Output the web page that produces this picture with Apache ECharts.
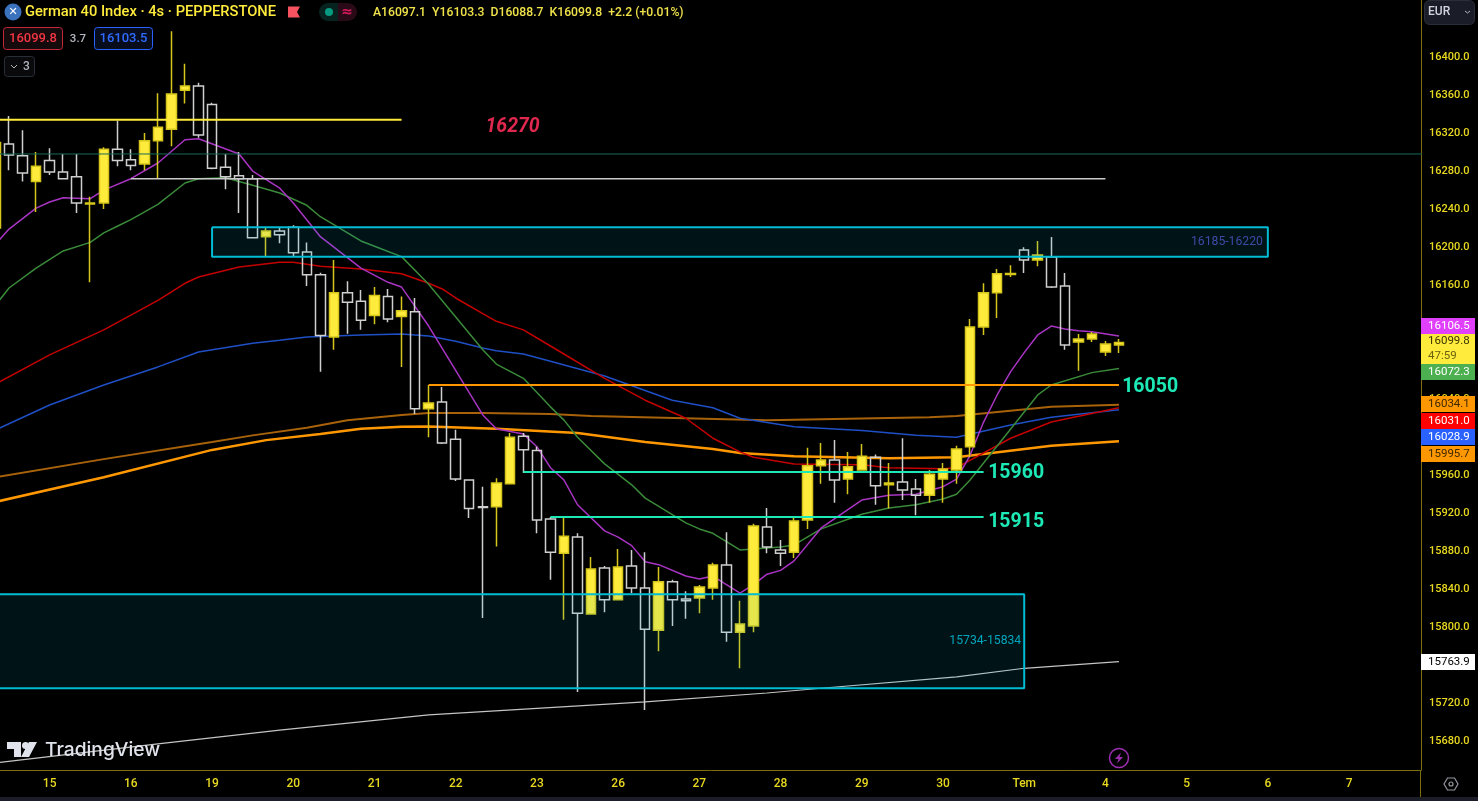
<!DOCTYPE html>
<html><head><meta charset="utf-8">
<style>html,body{margin:0;padding:0;background:#000;width:1478px;height:801px;overflow:hidden}#c{width:1478px;height:801px}</style>
<script src="https://cdn.jsdelivr.net/npm/echarts@6/dist/echarts.min.js"></script>
</head><body><div id="c"></div>
<script>
const barOpen=[16220,16308.5,16296,16269,16291,16279,16274,16245.5,16246.5,16303,16292,16287.5,16312,16324,16365,16369.5,16350,16284,16275,16272,16211,16217,16221,16195,16171,16105.5,16152,16143,16128,16148,16127,16132,16030,16037,15998,15955,15927,15927,15951,16001,15986,15914,15878,15895,15814,15862.5,15829,15864.6,15841.5,15797,15848,15830,15831,15841.5,15865.7,15795,15801.5,15905.7,15881.5,15879,15913,15970,15976,15956,15965.6,15979,15950,15953,15945.6,15939,15956,15965.6,15990,16116,16152,16171.3,16197,16186.5,16189.7,16159,16100.3,16103.4,16089.7,16097.1];
const barClose=[16310,16297,16278,16285,16279,16272,16246.5,16246.5,16303,16291,16286,16312,16326,16361,16369.5,16318,16283,16274,16272,16210,16217,16213,16194,16171,16107,16152,16142,16123,16149,16124.5,16133,16030,16036,15994,15956,15925,15926,15952,16000,15987,15913,15879,15896,15815,15861.5,15829,15863.6,15841.5,15798,15848,15829,15828,15842.6,15865.7,15795,15803.6,15906.7,15884.6,15878,15912,15970,15976,15955,15969,15980,15949,15952,15944.6,15939,15961,15966.7,15987.7,16116,16152,16172,16172.3,16186.5,16191.8,16158,16097,16103.4,16108.7,16098,16099.8];
const barLow=[16220,16281,16269,16237,16276,16272,16236,16163,16240,16285,16281,16281,16272,16306,16351,16315,16282,16261,16236,16210,16190,16204,16190,16159,16069,16092,16109,16113,16119,16121,16074,16024.5,16000,15993,15954,15915,15810,15885,15951,15962.5,15899,15850,15808,15732,15814,15816,15829,15836,15713,15775,15801.5,15809,15815,15829,15785,15757,15795,15878,15864.6,15873,15903.6,15951,15931,15940,15965.6,15929,15925,15934,15918,15931,15931,15951,15979,16107.6,16125.5,16168.6,16172.8,16180,16157,16092,16070,16100.3,16085.5,16088.7];
const barHigh=[16310,16338,16323,16300,16304,16298,16298,16253,16305,16333,16303,16320,16362,16427,16393,16373,16352,16298,16300,16276,16220,16220,16223,16205,16173,16186.5,16164,16155,16158,16156,16148,16146.5,16055,16053,16008,15955,15948,15957,16004.5,16004.5,15990,15916,15915,15899,15874,15864.6,15882.5,15881.5,15879,15863.6,15850,15838,15844.7,15868,15900,15828,15909,15925.7,15892,15915,15989,15994,15997,15984.6,15993,15982,15973,15999,15956,15965.6,15973,15991,16124.5,16162,16177,16181,16200,16206.5,16210.7,16172.8,16108.7,16110.8,16101.3,16103.3];

const purpleMA=[[0,16203],[1,16219],[3,16241],[4,16247.5],[5,16252],[7,16251],[8,16260],[10,16272],[12,16288.5],[14,16313],[15,16314],[18,16298],[19,16280],[21,16262],[22,16246.5],[24,16211],[27,16178],[29,16163],[30,16158],[32,16117],[36,16023.5],[37,16009],[39,16003.5],[40,15990],[41,15968],[42,15955],[43,15929],[45,15901.5],[46,15895],[47,15886],[48,15869],[49,15866],[51,15854],[52,15851],[53,15854],[55,15836],[56,15845],[57,15856],[58,15860],[59,15870],[61,15904.6],[64,15934],[66,15939],[68,15940],[70,15948],[71,15956],[72,15981],[73,16016],[74,16044.5],[75,16069],[76,16089],[77,16107.6],[78,16117],[79,16114],[80,16112],[81,16111],[83,16106.5]];
const greenMA=[[0,16139],[1,16157],[3,16178],[5,16196],[7,16205],[8,16215],[9,16222],[10,16229],[12,16245],[14,16267.5],[15,16272],[17,16273],[19,16265],[21,16257],[23,16244],[24,16232],[27,16206.5],[28,16201],[30,16190],[32,16161],[36,16092],[37,16077],[39,16062],[41,16032],[42,16018],[43,16000],[45,15972],[47,15950],[48,15936],[51,15910],[52,15903.6],[53,15899],[55,15881.5],[57,15883.6],[58,15884.6],[59,15886.7],[61,15903.6],[64,15919],[66,15925.7],[68,15929],[70,15935],[71,15940],[72,15955],[77,16044.5],[78,16055],[81,16068],[83,16072.3]];
const redMA=[[0,16056],[4,16086.6],[8,16113],[12,16144],[14,16162],[15,16168.6],[18,16179],[21,16184],[22,16184],[24,16180],[27,16177],[30,16172],[32,16162],[33,16156],[34,16146.5],[36,16130],[37,16122],[39,16113],[41,16096],[45,16062],[48,16039],[51,16020],[53,15999],[55,15984.6],[56,15979],[59,15972],[64,15971],[66,15968],[70,15967],[71,15968],[75,15999],[78,16016],[83,16031]];
const blueMA=[[0,16007.7],[4,16034],[8,16055],[12,16074],[15,16089.7],[19,16099],[21,16102],[23,16105.5],[27,16107.6],[30,16108.7],[32,16106.6],[34,16101],[36,16094],[37,16091],[39,16087.6],[41,16080],[45,16064.5],[50,16039],[53,16031],[55,16020],[59,16011],[64,16007],[68,16002],[71,16000],[75,16013],[78,16021],[83,16028.9]];
const darkOrangeMA=[[0,15958],[8,15977],[16,15995],[19,16002],[23,16010],[26,16018],[30,16023.5],[32,16025.6],[36,16025.6],[41,16024.5],[44,16022.4],[57,16018],[69,16021],[71,16022.4],[78,16032],[83,16034.1]];
const orangeMA=[[0,15932],[8,15958],[16,15986.7],[20,15997],[24,16003.5],[27,16009],[30,16011],[32,16011.4],[37,16009],[43,16004.5],[48,15995],[53,15987.7],[55,15983.5],[59,15980],[66,15978],[71,15979],[78,15991],[83,15995.7]];
const whiteMA=[[0,15657.4],[12,15677.4],[21,15692],[32,15708],[48,15721.6],[57,15731],[61,15736],[71,15748],[76,15757],[83,15763.9]];

const yellowLevel=[[0,16334],[30,16334]];
const greenLevel=[[0,16298],[106,16298]];
const greyLevel=[[10,16272],[82,16272]];
const level16050=[[32,16055],[83,16055]];
const level15960=[[39,15963.5],[73,15963.5]];
const level15915=[[41,15916],[73,15916]];
const zoneUpper={from:16,to:94,top:16221,bottom:16190,text:'16185-16220'};
const zoneLower={from:-1,to:76,top:15835,bottom:15736,text:'15734-15834'};

const xTickIndex=[4,10,16,22,28,34,40,46,52,58,64,70,76,82,88,94,100];
const xTickLabels=['15','16','19','20','21','22','23','26','27','28','29','30','Tem','4','5','6','7'];
const yTicks=[16400,16360,16320,16280,16240,16200,16160,16120,16080,16040,16000,15960,15920,15880,15840,15800,15760,15720,15680];

const tagLevels=[16117.1,16092.9,16068.7,16035.1,16017.2,16000.3,15982.5,15763.7];
const tagTexts=['16106.5','16099.8','16072.3','16034.1','16031.0','16028.9','15995.7','15763.9'];
const tagColors=['#e040fb','#ffeb3b','#4caf50','#ff9800','#ff0000','#2962ff','#ff9800','#ffffff'];
const tagInk=['#ffffff','#3a3500','#ffffff','#3d2800','#ffffff','#ffffff','#3d2800','#000000'];

const FONT='Roboto, "Noto Sans", sans-serif';
const YMIN=15650, YMAX=16459.96, XMIN=0.3325, XMAX=105.314;
const YELLOW='#ffeb3b', TEAL='#1de9b6', AXIS='#7d6f10', AXTXT='#e8d820', CYAN='#00bcd4';

const candles=barOpen.map((o,i)=>[i,o,barClose[i],barLow[i],barHigh[i]]);

function maSeries(name,data,color,width){
  return {name,type:'line',data,xAxisIndex:0,yAxisIndex:0,symbol:'none',z:2,silent:true,
    lineStyle:{color,width},itemStyle:{color},animation:false};
}
function levelSeries(name,data,color,width){
  return {name,type:'line',data,xAxisIndex:0,yAxisIndex:0,symbol:'none',z:7,silent:true,
    lineStyle:{color,width},animation:false};
}
function zone(z,textColor,dist){
  return [{xAxis:z.from,yAxis:z.top,label:{show:true,position:'insideRight',distance:dist,color:textColor,fontSize:12.2,fontFamily:FONT,formatter:z.text}},
          {xAxis:z.to,yAxis:z.bottom}];
}
function zoneOutline(z){
  return [[z.from,z.top],[z.to,z.top],[z.to,z.bottom],[z.from,z.bottom],[z.from,z.top]];
}
function textMark(x,y,text,color,size){
  return {value:[x,y],label:{show:true,formatter:text,color,opacity:1,fontSize:size,fontWeight:'bold',fontFamily:FONT,position:'right',distance:0}};
}
function hdr(x,y,text,fill,font,align){
  return {type:'text',z:50,silent:true,style:{x,y,text,fill,font:font||('500 13px '+FONT),align:align||'left',verticalAlign:'middle'}};
}
function box(x,y,w,h,fill,stroke,r){
  return {type:'rect',z:49,silent:true,shape:{x,y,width:w,height:h,r:r||3},style:{fill,stroke,lineWidth:1}};
}

const chart=echarts.init(document.getElementById('c'),null,{renderer:'canvas',width:1478,height:801});
chart.setOption({
  animation:false,backgroundColor:'#000000',
  grid:[
    {left:0,top:0,width:1421,height:770,show:false},
    {left:1421,top:0,width:54,height:770,show:false}
  ],
  xAxis:[
    {gridIndex:0,type:'value',min:XMIN,max:XMAX,splitLine:{show:false},
     axisLine:{show:true,lineStyle:{color:AXIS,width:1}},axisTick:{show:false},
     axisLabel:{color:AXTXT,fontSize:12,fontWeight:500,fontFamily:FONT,margin:8,customValues:xTickIndex,
       formatter:v=>xTickLabels[xTickIndex.indexOf(v)]||''}},
    {gridIndex:1,type:'value',min:0,max:1,show:false}
  ],
  yAxis:[
    {gridIndex:0,type:'value',position:'right',min:YMIN,max:YMAX,splitLine:{show:false},
     axisLine:{show:true,onZero:false,lineStyle:{color:AXIS,width:1}},axisTick:{show:false},
     axisLabel:{color:AXTXT,fontSize:11,fontWeight:500,fontFamily:FONT,margin:8,padding:[2,0,0,0],customValues:yTicks,formatter:v=>v.toFixed(1)}},
    {gridIndex:1,type:'value',min:YMIN,max:YMAX,show:false}
  ],
  series:[
    maSeries('White MA',whiteMA,'#c4c4c4',1.2),
    maSeries('Dark orange MA',darkOrangeMA,'#a8620a',2),
    maSeries('Orange MA',orangeMA,'#ff9800',2.5),
    maSeries('Blue MA',blueMA,'#1f4fc4',1.5),
    maSeries('Red MA',redMA,'#c40000',1.5),
    maSeries('Green MA',greenMA,'#3a8a3a',1.5),
    maSeries('Purple MA',purpleMA,'#a934c4',1.5),
    {name:'DE40',type:'candlestick',xAxisIndex:0,yAxisIndex:0,data:candles,barWidth:10,z:3,clip:true,silent:true,
     encode:{x:0,y:[1,2,3,4]},
     itemStyle:{color:YELLOW,color0:'rgba(0,0,0,0)',borderColor:'#d6c61c',borderColor0:'#cfcfcf',borderWidth:1.5}},
    {name:'Zones',type:'line',data:[],xAxisIndex:0,yAxisIndex:0,symbol:'none',z:5,silent:true,
     markArea:{silent:true,z:6,itemStyle:{color:'rgba(0,188,212,0.1)',borderWidth:0},
       data:[zone(zoneUpper,'#3d4aa8',5),zone(zoneLower,'#00a5bd',3)]}},
    levelSeries('Zone upper outline',zoneOutline(zoneUpper),CYAN,2),
    levelSeries('Zone lower outline',zoneOutline(zoneLower),CYAN,2),
    levelSeries('Level yellow',yellowLevel,YELLOW,2),
    levelSeries('Level green',greenLevel,'#156a58',1),
    levelSeries('Level grey',greyLevel,'#c9c9c9',1.5),
    levelSeries('Level 16050',level16050,'#ff9800',2),
    levelSeries('Level 15960',level15960,TEAL,2),
    levelSeries('Level 15915',level15915,TEAL,2),
    {name:'Notes',type:'scatter',xAxisIndex:0,yAxisIndex:0,symbolSize:1,itemStyle:{color:'rgba(0,0,0,0)',opacity:1},z:8,silent:true,
     data:[
       textMark(83.2,16053,'16050',TEAL,19.5),
       textMark(73.3,15962,'15960',TEAL,19.5),
       textMark(73.3,15911,'15915',TEAL,19.5),
       {value:[38.2,16326.5],label:{show:true,formatter:'16270',position:'inside',color:'#e0284f',opacity:1,fontSize:19.5,fontWeight:'bold',fontStyle:'italic',fontFamily:FONT}}
     ]},
    {name:'Price tags',type:'scatter',xAxisIndex:1,yAxisIndex:1,symbol:'rect',z:9,silent:true,clip:false,
     data:tagLevels.map((v,i)=>{
       const two=i===1;
       return {value:[0.5,v],symbolSize:[54,two?30:16],itemStyle:{color:tagColors[i],opacity:1},
         label:{show:true,position:'insideLeft',distance:7,fontFamily:FONT,fontSize:11.5,color:tagInk[i],opacity:1,lineHeight:15,
           formatter:two?tagTexts[i]+'\n{c|47:59}':tagTexts[i],rich:{c:{color:'#6b6210',fontSize:11.5,fontFamily:FONT,lineHeight:15}}}};
     })}
  ],
  graphic:{elements:[
    {type:'circle',z:50,silent:true,shape:{cx:13,cy:12,r:8.5},style:{fill:'#3a72bd'}},
    hdr(13,12,'✕','#ffffff','bold 11px "DejaVu Sans"','center'),
    hdr(25,12,'German 40 Index · 4s · PEPPERSTONE',YELLOW,'500 14.7px '+FONT),
    {type:'polygon',z:50,silent:true,shape:{points:[[288,6.5],[300,6.5],[297,12],[300,17.5],[288,17.5]]},style:{fill:'#f7525f'}},
    {type:'rect',z:49,silent:true,shape:{x:319,y:3,width:19,height:18,r:[9,0,0,9]},style:{fill:'#06231f'}},
    {type:'rect',z:49,silent:true,shape:{x:338,y:3,width:19,height:18,r:[0,9,9,0]},style:{fill:'#2a0a16'}},
    {type:'circle',z:50,silent:true,shape:{cx:329,cy:12,r:4},style:{fill:'#089981'}},
    hdr(347,12,'≈','#d81b60','bold 14px "DejaVu Sans"','center'),
    hdr(373,13,'A16097.1  Y16103.3  D16088.7  K16099.8  +2.2 (+0.01%)','#f0e24a','500 12.2px '+FONT),
    box(3.5,27.5,59,22,'#150a0c','#c2283a'),
    hdr(33,39,'16099.8','#f23645','500 13px '+FONT,'center'),
    hdr(78,39,'3.7','#b2b5be','500 11.5px '+FONT,'center'),
    box(94.5,27.5,58,22,'#080d1e','#2962ff'),
    hdr(123.5,39,'16103.5','#2f6bff','500 13px '+FONT,'center'),
    box(4.5,56.5,30,20,'#0a0a0c','#2a2e39'),
    {type:'polyline',z:50,silent:true,shape:{points:[[11,65],[14,68],[17,65]]},style:{stroke:'#b2b5be',fill:'none',lineWidth:1}},
    hdr(26.5,67,'3','#b2b5be','500 12px '+FONT,'center'),
    box(1424.5,0.5,50,24,'#1a1d28','#2a2e39',5),
    hdr(1428,12,'EUR','#d1d4dc','500 12px '+FONT),
    {type:'polyline',z:50,silent:true,shape:{points:[[1465,11],[1467.5,13],[1470,11]]},style:{stroke:'#b2b5be',fill:'none',lineWidth:1}},
    {type:'polygon',z:50,silent:true,shape:{points:[[7,742],[21,742],[21,757],[14,757],[14,749],[7,749]]},style:{fill:'#e0e3eb'}},
    {type:'circle',z:50,silent:true,shape:{cx:25.5,cy:745.5,r:3.5},style:{fill:'#e0e3eb'}},
    {type:'polygon',z:50,silent:true,shape:{points:[[29,742],[37,742],[29,757],[21,757]]},style:{fill:'#e0e3eb'}},
    hdr(45,750,'TradingView','#e0e3eb','500 19.2px Inter'),
    {type:'circle',z:50,silent:true,shape:{cx:1119,cy:758,r:9.5},style:{fill:'none',stroke:'#9c2fb0',lineWidth:1.5}},
    {type:'polygon',z:50,silent:true,shape:{points:[[1121,752.5],[1115,759],[1118.5,759],[1117,763.5],[1123,757],[1119.5,757]]},style:{fill:'#9c2fb0'}},
    {type:'polygon',z:50,silent:true,shape:{points:[[1444,784],[1447.5,778],[1454.5,778],[1458,784],[1454.5,790],[1447.5,790]]},style:{fill:'none',stroke:'#9598a1',lineWidth:1.2}},
    {type:'circle',z:50,silent:true,shape:{cx:1451,cy:784,r:2},style:{fill:'none',stroke:'#9598a1',lineWidth:1.2}},
    {type:'line',z:1,silent:true,shape:{x1:1420.5,y1:770,x2:1420.5,y2:797},style:{stroke:AXIS,lineWidth:1}},
    {type:'rect',z:50,silent:true,shape:{x:0,y:797,width:1478,height:4},style:{fill:'#1b1e29'}}
  ]}
});
</script></body></html>
